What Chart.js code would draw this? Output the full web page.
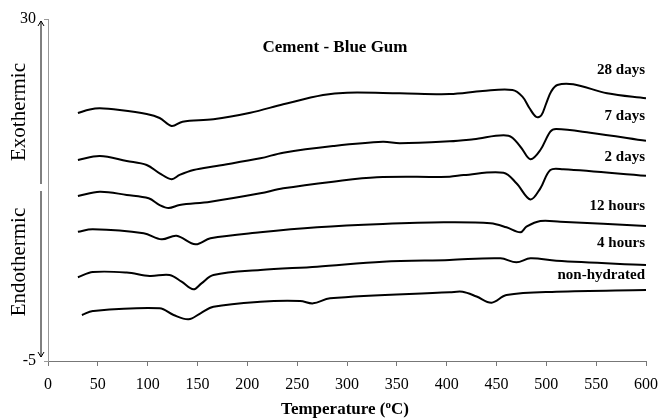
<!DOCTYPE html>
<html>
<head>
<meta charset="utf-8">
<script src="https://cdn.jsdelivr.net/npm/chart.js@4/dist/chart.umd.min.js"></script>
<style>
  html, body { margin: 0; padding: 0; background: #fff; }
  #wrap { width: 661px; height: 420px; }
</style>
</head>
<body>
<div id="wrap"><canvas id="dtaChart" width="661" height="420"></canvas></div>
<script>
// Curve names (top to bottom) and where their labels sit (y in chart units)
const seriesNames = ['28 days', '7 days', '2 days', '12 hours', '4 hours', 'non-hydrated'];
const labelLevels = [24.8, 20.1, 15.9, 10.8, 7.05, 3.8];

// Temperature (C) and signal values, one pair per curve
const temp28d = [30, 42, 52, 72, 99, 112, 124, 135, 166, 203, 236, 276, 300, 353, 403, 436, 466, 476, 483, 490, 495, 500, 505, 511, 527, 561, 600];
const val28d  = [20.38, 20.74, 20.86, 20.69, 20.28, 19.87, 19.05, 19.49, 19.74, 20.41, 21.27, 22.22, 22.46, 22.40, 22.32, 22.63, 22.73, 22.05, 20.89, 19.97, 20.15, 21.40, 22.6, 23.25, 23.32, 22.40, 21.88];

const temp7d = [30, 52, 79, 99, 112, 124, 132, 146, 169, 213, 236, 286, 336, 353, 403, 427, 462, 474, 484, 494, 504, 510, 544, 600];
const val7d  = [15.57, 15.98, 15.47, 15.06, 14.21, 13.60, 14.04, 14.55, 14.96, 15.74, 16.32, 17.00, 17.44, 17.28, 17.48, 17.69, 18.06, 16.93, 15.64, 16.59, 18.47, 18.74, 18.36, 17.53];

const temp2d = [30, 52, 79, 101, 112, 121, 132, 163, 213, 236, 286, 330, 403, 417, 457, 470, 484, 494, 504, 517, 600];
const val2d  = [11.89, 12.33, 11.99, 11.65, 10.96, 10.66, 10.96, 11.30, 12.16, 12.67, 13.35, 13.80, 13.86, 14.03, 14.27, 13.19, 11.53, 12.67, 14.55, 14.62, 13.96];

const temp12h = [30, 45, 96, 114, 129, 148, 163, 213, 270, 336, 397, 444, 460, 474, 480, 494, 514, 600];
const val12h  = [8.23, 8.48, 8.07, 7.45, 7.82, 6.94, 7.56, 8.17, 8.68, 9.02, 9.19, 9.09, 8.68, 8.17, 8.74, 9.33, 9.26, 8.82];

const temp4h = [30, 45, 79, 102, 122, 134, 146, 154, 166, 213, 270, 336, 403, 454, 470, 484, 510, 600];
const val4h  = [3.57, 4.10, 4.05, 3.70, 3.80, 3.12, 2.34, 2.95, 3.80, 4.31, 4.65, 5.16, 5.34, 5.51, 5.10, 5.51, 5.26, 4.82];

const tempDry = [34, 45, 112, 126, 141, 153, 166, 213, 253, 266, 283, 403, 416, 430, 445, 460, 510, 600];
const valDry  = [-0.29, 0.12, 0.39, -0.29, -0.73, -0.12, 0.56, 1.07, 1.14, 0.90, 1.42, 2.03, 2.09, 1.60, 0.97, 1.75, 2.09, 2.27];

const xTickStep = 50;
const yTickValues = [-5, 30];

const curves = [
  [temp28d, val28d], [temp7d, val7d], [temp2d, val2d],
  [temp12h, val12h], [temp4h, val4h], [tempDry, valDry]
];

const datasets = curves.map((c, i) => ({
  label: seriesNames[i],
  data: c[0].map((t, j) => ({ x: t, y: c[1][j] })),
  borderColor: '#000',
  borderWidth: 2,
  pointRadius: 0,
  fill: false,
  tension: 0.35
}));

const SERIF = '"Liberation Serif", "DejaVu Serif", serif';

// extra drawing: title, curve names, axis title, exo/endo arrows
const decorations = {
  id: 'decorations',
  afterDraw(chart) {
    const { ctx, scales } = chart;
    const xs = scales.x, ys = scales.y;
    ctx.save();
    ctx.fillStyle = '#000';
    ctx.textBaseline = 'middle';

    // title
    ctx.font = 'bold 17px ' + SERIF;
    ctx.textAlign = 'center';
    ctx.fillText('Cement - Blue Gum', 335, 48);

    // curve names, right aligned at the right edge
    ctx.font = 'bold 15px ' + SERIF;
    ctx.textAlign = 'right';
    seriesNames.forEach((name, i) => {
      ctx.fillText(name, xs.getPixelForValue(600) - 1, ys.getPixelForValue(labelLevels[i]));
    });

    // x axis title with superscript o
    const part1 = 'Temperature (', part3 = 'C)';
    ctx.font = 'bold 17px ' + SERIF;
    const w1 = ctx.measureText(part1).width, w3 = ctx.measureText(part3).width;
    ctx.font = 'bold 11px ' + SERIF;
    const w2 = ctx.measureText('o').width;
    const x0 = 345 - (w1 + w2 + w3) / 2;
    const yT = 410;
    ctx.textAlign = 'left';
    ctx.font = 'bold 17px ' + SERIF;
    ctx.fillText(part1, x0, yT);
    ctx.font = 'bold 11px ' + SERIF;
    ctx.fillText('o', x0 + w1, yT - 5);
    ctx.font = 'bold 17px ' + SERIF;
    ctx.fillText(part3, x0 + w1 + w2, yT);

    // exothermic / endothermic arrows
    const ax = 41;
    ctx.strokeStyle = '#000';
    ctx.lineWidth = 1;
    ctx.beginPath();
    ctx.moveTo(ax, 184); ctx.lineTo(ax, 21);
    ctx.moveTo(ax - 3, 26); ctx.lineTo(ax, 21); ctx.lineTo(ax + 3, 26);
    ctx.moveTo(ax, 191); ctx.lineTo(ax, 357);
    ctx.moveTo(ax - 3, 352); ctx.lineTo(ax, 357); ctx.lineTo(ax + 3, 352);
    ctx.stroke();

    ctx.font = '21px ' + SERIF;
    ctx.textAlign = 'center';
    ctx.save();
    ctx.translate(19, 112);
    ctx.rotate(-Math.PI / 2);
    ctx.fillText('Exothermic', 0, 0);
    ctx.restore();
    ctx.save();
    ctx.translate(19, 262);
    ctx.rotate(-Math.PI / 2);
    ctx.fillText('Endothermic', 0, 0);
    ctx.restore();

    ctx.restore();
  }
};

new Chart(document.getElementById('dtaChart').getContext('2d'), {
  type: 'line',
  data: { datasets: datasets },
  options: {
    responsive: false,
    animation: false,
    layout: { padding: { top: 19, right: 15, bottom: 0, left: 0 } },
    plugins: { legend: { display: false }, tooltip: { enabled: false }, title: { display: false } },
    scales: {
      x: {
        type: 'linear',
        min: 0,
        max: 600,
        afterFit: (scale) => {
          scale.height = 59;
          scale.paddingLeft = 0;
          scale.paddingRight = 0;
        },
        border: { display: true, color: '#777', width: 1 },
        grid: { drawOnChartArea: false, drawTicks: true, tickLength: 5, color: '#777' },
        ticks: { stepSize: xTickStep, color: '#000', padding: 9, maxRotation: 0, font: { family: SERIF, size: 16 } }
      },
      y: {
        min: -5,
        max: 30,
        afterFit: (scale) => { scale.width = 48; },
        afterBuildTicks: (scale) => { scale.ticks = yTickValues.map(v => ({ value: v })); },
        border: { display: true, color: '#999', width: 1 },
        grid: { drawOnChartArea: false, drawTicks: true, tickLength: 4, color: '#999' },
        ticks: { color: '#000', padding: 8, font: { family: SERIF, size: 16 } }
      }
    }
  },
  plugins: [decorations]
});
</script>
</body>
</html>
